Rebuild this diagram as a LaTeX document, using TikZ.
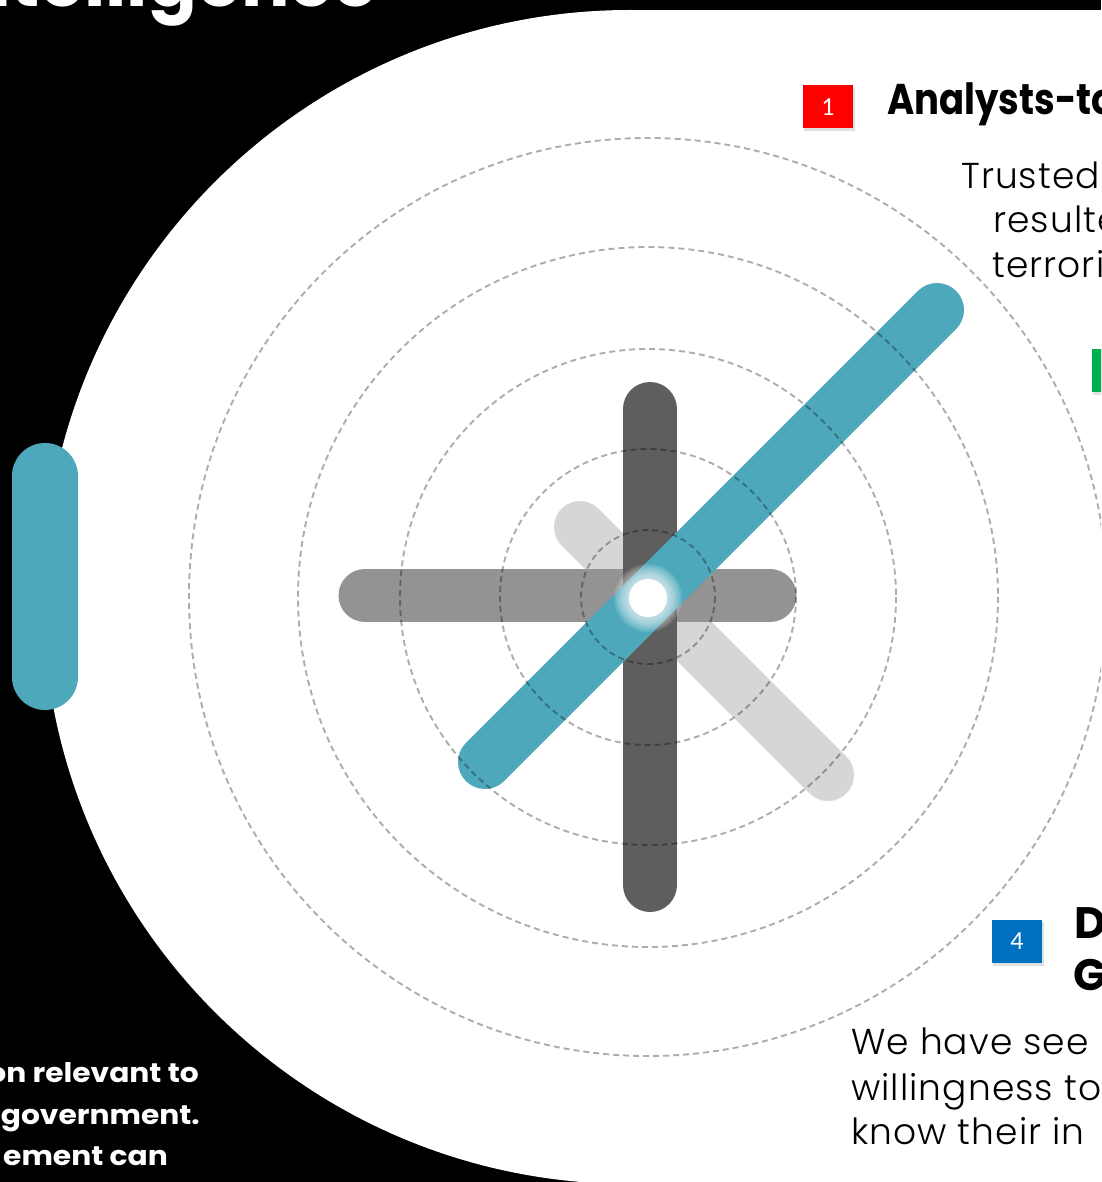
\documentclass[tikz,border=0pt]{standalone}
\usepackage{fontspec}
\setmainfont{Poppins}
\IfFontExistsTF{Poppins Light}{\newfontfamily\lightfont{Poppins Light}[LetterSpace=3]}{\newfontfamily\lightfont{Poppins}[LetterSpace=3]}
\newfontfamily\digitfont{Carlito}
\definecolor{tealbar}{RGB}{78,168,188}
\definecolor{darkbar}{RGB}{94,94,94}
\definecolor{midbar}{RGB}{147,147,147}
\definecolor{lightbar}{RGB}{214,214,214}
\definecolor{boxred}{RGB}{255,0,0}
\definecolor{boxblue}{RGB}{0,112,192}
\definecolor{boxgreen}{RGB}{0,176,80}
\tikzset{
  ring/.style={draw=black, opacity=0.32, line width=1.9pt, dash pattern=on 6pt off 4pt},
  bar/.style={line width=#1, line cap=round},
  bodytext/.style={inner sep=0pt, anchor=base west, font=\lightfont\fontsize{36}{44}\selectfont, text=black},
  headtext/.style={inner sep=0pt, anchor=base west, font=\bfseries\fontsize{43}{52}\selectfont, text=black},
  whitebold/.style={inner sep=0pt, anchor=base east, font=\bfseries\fontsize{27}{42}\selectfont, text=white},
  numbox/.style={minimum width=50pt, minimum height=43pt, inner sep=0pt, text=white, font=\digitfont\fontsize{26}{30}\selectfont},
  shadowbox/.style={fill=black, opacity=0.12}
}
\begin{document}
\begin{tikzpicture}[x=1pt,y=-1pt]
\useasboundingbox (0,0) rectangle (1101,1182);
\clip (0,0) rectangle (1101,1182);
% background
\fill[black] (0,0) rectangle (1101,1182);
% white panel: big circle plus rectangle to the right
\fill[white] (630,597) circle (587);
\fill[white] (630,10) rectangle (1101,1182);
% title (bottom part visible)
\node[inner sep=0pt, anchor=base east, font=\bfseries\fontsize{72}{80}\selectfont, text=white] (title) at (378,7) {Intelligence};
% left teal pill
\draw[bar=66pt, tealbar] (45,476) -- (45,677);
% bars
\coordinate (c) at (648,598);
\draw[bar=52pt, lightbar] (580,527) -- (828,775);
\draw[bar=53pt, midbar] (365,595.5) -- (770,595.5);
\draw[bar=54pt, darkbar] (650,409) -- (650,885);
\draw[bar=54pt, tealbar] (485,762) -- (937,310);
% glow and dot
\foreach \r in {34,32,...,20} { \fill[white, opacity=0.13] (c) circle (\r); }
\fill[white] (c) circle (19);
% dashed rings
\foreach \r in {67,148,248,350,459} { \draw[ring] (648,597) circle (\r); }
% number boxes
\fill[shadowbox] (804,88) rectangle (855,131);
\node[numbox, fill=boxred] (b1) at (828,107) {1};
\fill[shadowbox] (993,922) rectangle (1044,966);
\node[numbox, fill=boxblue] (b4) at (1017,941.5) {4};
\fill[shadowbox] (1093,351) rectangle (1144,395);
\node[numbox, fill=boxgreen] (b3) at (1117,370.5) {};
% right texts
\node[headtext] (h1) at (887,115) {\scalebox{0.86}[1]{Analysts-to}};
\node[bodytext] (t1) at (961,189) {Trusted};
\node[bodytext] (t2) at (993,233) {resulte};
\node[bodytext] (t3) at (992,277) {terrori};
\node[headtext, font=\bfseries\fontsize{44}{52}\selectfont] (h4a) at (1074,938) {D};
\node[headtext, font=\bfseries\fontsize{44}{52}\selectfont] (h4b) at (1073,990) {G};
\node[bodytext] (w1) at (851,1054) {We have see};
\node[bodytext] (w2) at (851,1100) {willingness to};
\node[bodytext] (w3) at (851,1144) {know their in};
% bottom-left white texts
\node[whitebold] (l1) at (199,1082) {\scalebox{1.1}[1]{on relevant to}};
\node[whitebold] (l2) at (200,1124) {\scalebox{1.1}[1]{government.}};
\node[whitebold] (l3) at (168,1165) {\scalebox{1.1}[1]{ement can}};
\end{tikzpicture}
\end{document}
